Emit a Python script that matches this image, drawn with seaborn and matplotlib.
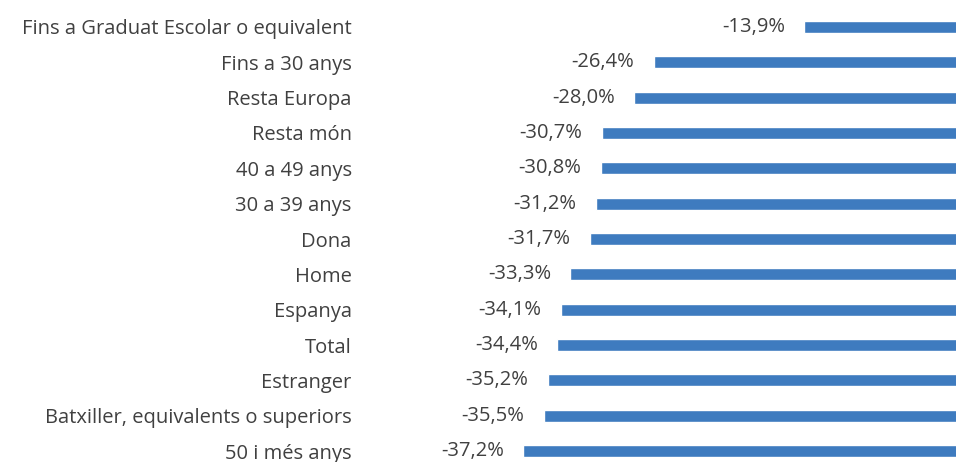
import matplotlib
matplotlib.use("Agg")
import matplotlib.pyplot as plt
import seaborn as sns
import pandas as pd

categories = ["Fins a Graduat Escolar o equivalent", "Fins a 30 anys", "Resta Europa",
              "Resta món", "40 a 49 anys", "30 a 39 anys", "Dona", "Home", "Espanya",
              "Total", "Estranger", "Batxiller, equivalents o superiors", "50 i més anys"]
values = [-13.9, -26.4, -28.0, -30.7, -30.8, -31.2, -31.7, -33.3, -34.1, -34.4, -35.2, -35.5, -37.2]

df = pd.DataFrame({"cat": categories, "val": values})

sns.set_theme(style="white")
plt.rcParams['font.family'] = ['Open Sans', 'DejaVu Sans']

fig = plt.figure(figsize=(9.56, 4.62), dpi=100)
ax = fig.add_axes([360/956, 0, (956-360)/956, 1])
sns.barplot(data=df, x="val", y="cat", orient="h", color="#3E7BBF", width=0.34,
            saturation=1, ax=ax)
ax.set_xlim(-50.75, -1.33)
ax.set_ylim(12.311, -0.764)
for s in ax.spines.values():
    s.set_visible(False)
ax.set_xticks([])
ax.set_xlabel("")
ax.set_ylabel("")
ax.tick_params(axis="y", length=0, pad=6, labelsize=14.5, labelcolor="#404040")
labels = [f"{v:.1f}%".replace(".", ",") for v in values]
ax.bar_label(ax.containers[0], labels=labels, padding=14, fontsize=14.5, color="#404040")
fig.savefig("out.png", dpi=100)
